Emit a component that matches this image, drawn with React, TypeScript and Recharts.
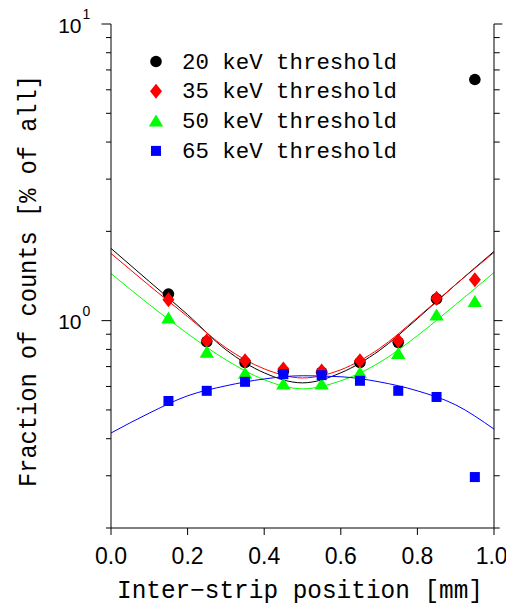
import React from 'react';
import { ComposedChart, Line, Scatter, XAxis, YAxis } from 'recharts';

// Measured positions (mm)
const positions = [0.15, 0.25, 0.35, 0.45, 0.55, 0.65, 0.75, 0.85, 0.95];
const thr20 = [1.23, 0.85, 0.723, 0.675, 0.67, 0.723, 0.845, 1.184, 6.5];
const thr35 = [1.175, 0.856, 0.732, 0.687, 0.677, 0.732, 0.856, 1.19, 1.373];
const thr50 = [1.02, 0.782, 0.665, 0.611, 0.611, 0.668, 0.775, 1.045, 1.16];
const thr65 = [0.536, 0.58, 0.622, 0.66, 0.655, 0.627, 0.58, 0.553, 0.297];

// Fit curves
const fitX = [0, 0.1, 0.2, 0.3, 0.4, 0.5, 0.6, 0.7, 0.8, 0.9, 1.0];
const fit20 = [1.752, 1.355, 1.048, 0.798, 0.667, 0.617, 0.667, 0.792, 1.016, 1.324, 1.711];
const fit35 = [1.685, 1.313, 1.032, 0.81, 0.688, 0.641, 0.683, 0.804, 1.024, 1.324, 1.698];
const fit50 = [1.442, 1.133, 0.904, 0.738, 0.632, 0.589, 0.627, 0.721, 0.89, 1.133, 1.453];
const fit65 = [0.418, 0.488, 0.558, 0.603, 0.636, 0.652, 0.647, 0.622, 0.58, 0.52, 0.431];

const seriesNames = ['20 keV threshold', '35 keV threshold', '50 keV threshold', '65 keV threshold'];
const seriesColors = ['#000000', '#ff0000', '#00ff00', '#0000ff'];

const xTicks = [0, 0.2, 0.4, 0.6, 0.8, 1.0];
const yTicks = [0.2, 0.3, 0.4, 0.5, 0.6, 0.7, 0.8, 0.9, 1, 2, 3, 4, 5, 6, 7, 8, 9, 10];
const yMajor = [1, 10];

const xAxisTitle = 'Inter\u2212strip position [mm]';
const yAxisTitle = 'Fraction of counts [% of all]';

const toPts = (xs: number[], ys: number[]) => xs.map((x, i) => ({ x, y: ys[i] }));

const sansFont = '"Liberation Sans", Arial, sans-serif';
const monoFont = '"Liberation Mono", "Courier New", monospace';

type Kind = 'circle' | 'diamond' | 'triangle' | 'square';
const kinds: Kind[] = ['circle', 'diamond', 'triangle', 'square'];

const Marker = ({ cx, cy, kind, color }: { cx: number; cy: number; kind: Kind; color: string }) => {
  if (kind === 'circle') return <circle cx={cx} cy={cy} r={5.8} fill={color} />;
  if (kind === 'diamond')
    return <polygon points={`${cx},${cy - 7.5} ${cx + 6},${cy} ${cx},${cy + 7.5} ${cx - 6},${cy}`} fill={color} />;
  if (kind === 'triangle')
    return <polygon points={`${cx},${cy - 6.5} ${cx + 7.2},${cy + 5.5} ${cx - 7.2},${cy + 5.5}`} fill={color} />;
  return <rect x={cx - 5} y={cy - 5} width={10} height={10} fill={color} />;
};

const makeShape = (kind: Kind, color: string) => (p: any) => {
  if (p == null || p.cx == null || p.cy == null) return <g />;
  return <Marker cx={p.cx} cy={p.cy} kind={kind} color={color} />;
};

const LeftTick = (props: any) => {
  const { x, y, payload } = props;
  const v = payload.value;
  const major = yMajor.includes(v);
  const len = major ? 9.5 : 5;
  const exp = Math.round(Math.log10(v));
  return (
    <g>
      <line x1={x - len} x2={x} y1={y} y2={y} stroke="#000" strokeWidth={1} />
      {major && (
        <g>
          <text x={x - 29.5} y={y + 8.5} textAnchor="end" fontFamily={sansFont} fontSize={21} fill="#000">
            10
          </text>
          <text x={x - 28.5} y={y - 5} textAnchor="start" fontFamily={sansFont} fontSize={14} fill="#000">
            {String(exp)}
          </text>
        </g>
      )}
    </g>
  );
};

const RightTick = (props: any) => {
  const { x, y, payload } = props;
  const v = payload.value;
  const major = yMajor.includes(v);
  const len = major ? 8.4 : 5.7;
  return <line x1={x} x2={x + len} y1={y} y2={y} stroke="#000" strokeWidth={1} />;
};

const allSeries = [thr20, thr35, thr50, thr65];
const allFits = [fit20, fit35, fit50, fit65];

export default function App() {
  return (
    <div style={{ position: 'absolute', left: 0, top: 0, width: 506, height: 605, background: '#fff' }}>
      <ComposedChart width={506} height={605} margin={{ top: 24, right: 0, bottom: 0, left: 0 }}>
        <XAxis
          xAxisId="bottom"
          dataKey="x"
          type="number"
          domain={[0, 1]}
          ticks={xTicks}
          tickFormatter={(v: number) => v.toFixed(1)}
          allowDataOverflow
          height={77}
          tickSize={7}
          tickMargin={13}
          stroke="#000"
          tick={{ fill: '#000', fontSize: 23, fontFamily: sansFont }}
          axisLine={{ stroke: '#000' }}
          tickLine={{ stroke: '#000' }}
        />
        <XAxis
          xAxisId="top"
          orientation="top"
          dataKey="x"
          type="number"
          domain={[0, 1]}
          ticks={xTicks}
          allowDataOverflow
          height={0}
          tickSize={8}
          tick={false}
          stroke="#000"
          axisLine={{ stroke: '#000' }}
          tickLine={{ stroke: '#000' }}
        />
        <YAxis
          yAxisId="left"
          dataKey="y"
          scale="log"
          type="number"
          domain={[0.2, 10]}
          ticks={yTicks}
          allowDataOverflow
          width={111}
          tickSize={0}
          tickMargin={0}
          tickLine={false}
          axisLine={{ stroke: '#000' }}
          tick={<LeftTick />}
          interval={0}
        />
        <YAxis
          yAxisId="right"
          orientation="right"
          dataKey="y"
          scale="log"
          type="number"
          domain={[0.2, 10]}
          ticks={yTicks}
          allowDataOverflow
          width={12}
          tickSize={0}
          tickMargin={0}
          tickLine={false}
          axisLine={{ stroke: '#000' }}
          tick={<RightTick />}
          interval={0}
        />
        {allFits.map((f, i) => (
          <Line
            key={'fit' + i}
            xAxisId="bottom"
            yAxisId="left"
            data={toPts(fitX, f)}
            dataKey="y"
            type="monotone"
            stroke={seriesColors[i]}
            strokeWidth={1}
            dot={false}
            activeDot={false}
            isAnimationActive={false}
          />
        ))}
        {allSeries.map((s, i) => (
          <Scatter
            key={'pts' + i}
            xAxisId="bottom"
            yAxisId="left"
            data={toPts(positions, s)}
            dataKey="y"
            fill={seriesColors[i]}
            shape={makeShape(kinds[i], seriesColors[i])}
            isAnimationActive={false}
          />
        ))}
      </ComposedChart>
      <svg
        width={506}
        height={605}
        style={{ position: 'absolute', left: 0, top: 0, pointerEvents: 'none' }}
      >
        {seriesNames.map((name, i) => {
          const rowY = 61.5 + i * 29.8;
          return (
            <g key={name}>
              <Marker cx={156} cy={rowY} kind={kinds[i]} color={seriesColors[i]} />
              <text
                x={182}
                y={rowY + 7}
                fontFamily={monoFont}
                fontSize={22}
                textLength={215}
                lengthAdjust="spacingAndGlyphs"
                fill="#000"
              >
                {name}
              </text>
            </g>
          );
        })}
        <text
          x={117}
          y={598}
          fontFamily={monoFont}
          fontSize={25}
          textLength={366}
          lengthAdjust="spacingAndGlyphs"
          fill="#000"
        >
          {xAxisTitle}
        </text>
        <text
          transform="translate(36,487) rotate(-90)"
          x={0}
          y={0}
          fontFamily={monoFont}
          fontSize={25}
          textLength={412}
          lengthAdjust="spacingAndGlyphs"
          fill="#000"
        >
          {yAxisTitle}
        </text>
      </svg>
    </div>
  );
}
